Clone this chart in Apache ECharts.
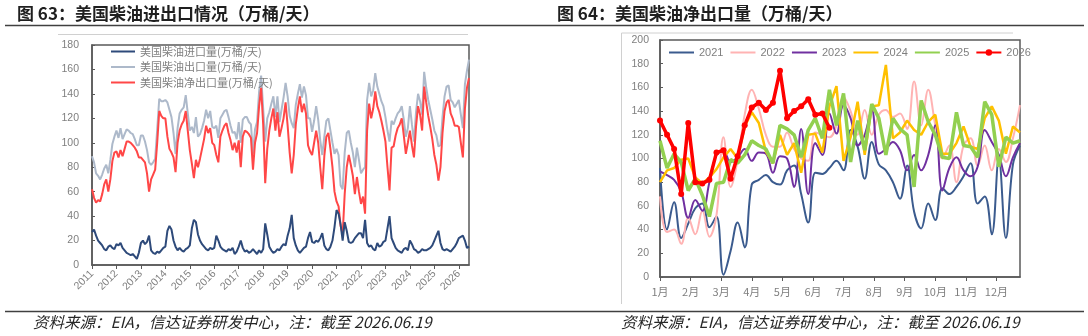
<!DOCTYPE html>
<html>
<head>
  <meta charset="UTF-8">
  <title>美国柴油进出口</title>
  <script src="https://cdn.jsdelivr.net/npm/echarts@6/dist/echarts.min.js"></script>
  <style>
    html, body { margin: 0; padding: 0; background: #fff; }
    #main { width: 1088px; height: 336px; }
  </style>
</head>
<body>
  <div id="main"></div>
  <script>
    // 图63 monthly, 2011-01 .. 2026-06 (万桶/天)
    var imports = [
      27, 29, 24, 20, 18, 16, 13, 12, 15, 16, 14, 13,
      17, 16, 18, 14, 12, 10, 9, 8, 9, 7, 5, 10,
      18, 20, 17, 19, 24, 12, 10, 9, 11, 10, 12, 14,
      15, 28, 32, 29, 20, 15, 12, 14, 12, 11, 13, 14,
      16, 30, 37, 35, 25, 20, 17, 15, 13, 12, 14, 13,
      14, 24, 20, 15, 13, 12, 11, 13, 12, 14, 9, 11,
      15, 20, 14, 11, 12, 10, 11, 13, 11, 9, 12, 10,
      13, 34, 25, 15, 12, 10, 11, 13, 12, 15, 17, 16,
      24, 30, 41, 22, 16, 12, 10, 12, 14, 15, 22, 27,
      19, 18, 20, 19, 22, 26, 16, 13, 12, 15, 20, 31,
      45, 42, 33, 20, 35, 28, 19, 18, 19, 22, 24, 26,
      26, 22, 37, 18, 15, 16, 13, 12, 18, 15, 16, 19,
      20, 30, 40, 22, 18, 14, 12, 11, 10, 13, 14, 12,
      20, 17, 13, 12, 10, 11, 13, 12, 12, 13, 14, 16,
      20, 24, 28, 18, 13, 12, 13, 12, 11, 13, 15, 18,
      22, 23, 24, 20, 14, 15
    ];
    var dieselExports = [
      89, 84, 75, 73, 70, 74, 79, 82, 75, 86, 99, 105,
      110, 104, 112, 103, 107, 111, 110, 108, 107, 103, 98, 98,
      106, 106, 101, 94, 84, 82, 84, 87, 111, 136, 134, 134,
      135, 133, 127, 121, 108, 91, 112, 124, 127, 129, 139, 124,
      110, 113, 108, 121, 105, 107, 112, 118, 127, 120, 126, 113,
      112, 114, 104, 120, 123, 126, 127, 121, 114, 108, 109, 103,
      117, 100, 119, 121, 121, 117, 115, 91, 111, 117, 142, 155,
      128, 101, 120, 125, 132, 138, 121, 138, 117, 127, 137, 149,
      138, 122, 116, 112, 131, 140, 148, 137, 146, 139, 120, 120,
      109, 118, 130, 119, 102, 90, 105, 118, 120, 110, 100, 91,
      95, 90, 65, 62, 92, 108, 110, 100, 92, 80, 96, 86,
      75, 78, 80, 135, 149, 138, 143, 157, 146, 140, 134, 130,
      121, 110, 101, 118, 115, 120, 124, 126, 130, 119, 105, 112,
      130, 115, 101, 125, 140, 134, 123, 158, 145, 135, 127, 119,
      110, 106, 97, 98, 121, 138, 146, 147, 135, 133, 129, 132,
      135, 123, 112, 148, 159, 168
    ];
    var netExports = [
      62, 55, 51, 53, 52, 58, 66, 70, 60, 70, 85, 92,
      93, 88, 94, 89, 95, 101, 101, 100, 98, 96, 93, 88,
      88, 86, 84, 75, 60, 70, 74, 78, 100, 126, 122, 120,
      120, 105, 95, 92, 88, 76, 100, 110, 115, 118, 126, 110,
      94, 83, 71, 86, 80, 87, 95, 103, 114, 108, 112, 100,
      98, 90, 84, 105, 110, 114, 116, 108, 102, 94, 100, 92,
      102, 80, 105, 110, 109, 107, 104, 78, 100, 108, 130, 145,
      115, 67, 95, 110, 120, 128, 110, 125, 105, 112, 120, 133,
      114, 92, 75, 90, 115, 128, 138, 125, 132, 124, 98, 93,
      90, 100, 110, 100, 80, 62, 89, 105, 108, 95, 80, 60,
      52, 48, 32, 25, 58, 80, 90, 82, 73, 58, 72, 60,
      50, 56, 42, 110, 132, 120, 128, 142, 130, 125, 118, 110,
      101, 80, 61, 96, 97, 106, 112, 115, 120, 106, 91, 100,
      110, 98, 88, 113, 130, 123, 110, 146, 133, 122, 113, 103,
      90, 82, 69, 80, 108, 126, 133, 135, 124, 120, 114, 114,
      113, 100, 88, 128, 145, 153
    ];

    // 图64 weekly net exports, week 1..52 of each year
    var net2021 = [92, 40, 63, 33, 45, 58, 62, 42, 51, 2, 22, 46, 25, 78, 82, 86, 80, 78, 90, 94,
      70, 46, 88, 87, 92, 98, 90, 124, 110, 83, 114, 95, 90, 80, 66, 94, 55, 41, 62, 48,
      75, 70, 76, 85, 96, 62, 68, 36, 100, 33, 95, 111];
    var net2022 = [68, 38, 40, 28, 50, 36, 56, 34, 52, 118, 76, 99, 137, 158, 142, 120, 110, 110, 122, 108,
      100, 98, 122, 120, 118, 128, 152, 140, 120, 141, 120, 137, 141, 135, 138, 125, 165, 128, 158, 128,
      100, 111, 80, 111, 117, 94, 111, 90, 108, 97, 117, 145];
    var net2023 = [89, 86, 82, 72, 50, 65, 56, 80, 103, 106, 97, 101, 108, 98, 105, 104, 88, 102, 100, 76,
      125, 70, 113, 103, 138, 121, 145, 134, 111, 120, 141, 104, 108, 114, 107, 90, 103, 90, 103, 128,
      73, 92, 101, 90, 85, 93, 124, 114, 103, 85, 101, 113];
    var net2024 = [80, 90, 92, 99, 100, 84, 79, 84, 91, 101, 108, 100, 127, 139, 130, 106, 96, 120, 103, 113,
      88, 120, 121, 105, 144, 161, 98, 118, 148, 103, 144, 145, 179, 117, 122, 132, 124, 120, 131, 137,
      104, 104, 113, 127, 110, 108, 134, 144, 132, 104, 127, 122];
    var net2025 = [115, 92, 104, 97, 73, 83, 69, 51, 79, 80, 99, 96, 103, 115, 111, 108, 96, 128, 125, 120,
      101, 124, 134, 117, 158, 128, 155, 97, 132, 107, 146, 134, 103, 134, 125, 120, 76, 149, 131, 120,
      101, 100, 139, 111, 110, 101, 148, 137, 93, 118, 113, 115];
    var net2026 = [132, 120, 108, 70, 130, 80, 79, 82, 105, 107, 83, 102, 128, 143, 147, 141, 147, 174, 134, 140,
      144, 150, 137, 138, 126];

    var monthNames = ['1月', '2月', '3月', '4月', '5月', '6月', '7月', '8月', '9月', '10月', '11月', '12月'];

    var months = [];
    for (var y = 2011; y <= 2026; y++) {
      for (var m = 1; m <= 12; m++) {
        if (y === 2026 && m > 6) break;
        months.push(y + '-' + (m < 10 ? '0' + m : m));
      }
    }
    var weeksPerMonth = 52 / 12;
    var monthPos = monthNames.map(function (n, i) { return i * weeksPerMonth; });
    function weekly(arr) { return arr.map(function (v, i) { return [i, v]; }); }
    function isJan(idx, val) { return val.slice(5) === '01'; }

    var frame = '#595959';
    var gray = '#7f7f7f';
    var numFont = "'Liberation Sans', 'Noto Sans CJK SC', sans-serif";
    var cjkFont = "'Noto Sans CJK SC', sans-serif";
    // legend marker hidden for plain lines, only the line sample is shown
    var noMarker = {color: 'rgba(0,0,0,0)', borderWidth: 0, opacity: 0};

    var chart = echarts.init(document.getElementById('main'), null, {renderer: 'canvas'});

    var yAxisBase = {
      type: 'value', min: 0, interval: 20,
      axisLine: {show: true, lineStyle: {color: frame, width: 1.5}},
      axisTick: {show: true, inside: true, length: 3, lineStyle: {color: frame}},
      axisLabel: {color: gray, fontSize: 10.5, fontFamily: numFont},
      splitLine: {show: false}
    };

    var option = {
      animation: false,
      backgroundColor: '#fff',
      grid: [
        {left: 92, top: 45, width: 377, height: 220, show: true, borderColor: frame, borderWidth: 1.5},
        {left: 660, top: 40, width: 360, height: 237, show: true, borderColor: frame, borderWidth: 1.5}
      ],
      legend: [
        {
          data: [
            {name: '美国柴油进口量(万桶/天)', itemStyle: noMarker},
            {name: '美国柴油出口量(万桶/天)', itemStyle: noMarker},
            {name: '美国柴油净出口量(万桶/天)', itemStyle: noMarker}
          ],
          orient: 'vertical', left: 105, top: 41, itemWidth: 24, itemHeight: 12, itemGap: 4.5,
          textStyle: {fontSize: 11, color: gray, fontFamily: cjkFont}
        },
        {
          data: [
            {name: '2021', itemStyle: noMarker},
            {name: '2022', itemStyle: noMarker},
            {name: '2023', itemStyle: noMarker},
            {name: '2024', itemStyle: noMarker},
            {name: '2025', itemStyle: noMarker},
            {name: '2026'}
          ],
          left: 663, top: 42, itemWidth: 25, itemHeight: 8, itemGap: 6,
          textStyle: {fontSize: 11, color: gray, fontFamily: numFont}
        }
      ],
      xAxis: [
        {
          type: 'category', gridIndex: 0, data: months, boundaryGap: false,
          axisLine: {lineStyle: {color: frame, width: 1.5}},
          axisTick: {interval: isJan, length: 4, lineStyle: {color: frame}},
          axisLabel: {
            interval: isJan, rotate: 45, margin: 7, color: gray, fontSize: 10.5, fontFamily: numFont,
            formatter: function (v) { return v.slice(0, 4); }
          },
          splitLine: {show: false}
        },
        {
          type: 'value', gridIndex: 1, min: 0, max: 51,
          axisLine: {lineStyle: {color: frame, width: 1.5}},
          axisTick: {customValues: monthPos, length: 4, lineStyle: {color: frame}},
          axisLabel: {
            customValues: monthPos, margin: 9, color: gray, fontSize: 11, fontFamily: cjkFont,
            formatter: function (v) { return monthNames[Math.round(v / weeksPerMonth)]; }
          },
          splitLine: {show: false}
        }
      ],
      yAxis: [
        Object.assign({}, yAxisBase, {gridIndex: 0, max: 180, axisLabel: Object.assign({}, yAxisBase.axisLabel, {margin: 13})}),
        Object.assign({}, yAxisBase, {gridIndex: 1, max: 200, axisLabel: Object.assign({}, yAxisBase.axisLabel, {margin: 11})})
      ],
      series: [
        {name: '美国柴油出口量(万桶/天)', type: 'line', data: dieselExports, symbol: 'none',
          lineStyle: {color: '#adb9ca', width: 2}, itemStyle: {color: '#adb9ca'}},
        {name: '美国柴油净出口量(万桶/天)', type: 'line', data: netExports, symbol: 'none',
          lineStyle: {color: '#ff4747', width: 2}, itemStyle: {color: '#ff4747'}},
        {name: '美国柴油进口量(万桶/天)', type: 'line', data: imports, symbol: 'none',
          lineStyle: {color: '#2e4a7a', width: 2}, itemStyle: {color: '#2e4a7a'}},

        {name: '2021', type: 'line', xAxisIndex: 1, yAxisIndex: 1, data: weekly(net2021), symbol: 'none', smooth: 0.4,
          lineStyle: {color: '#3b5b8e', width: 2}, itemStyle: {color: '#3b5b8e'}},
        {name: '2022', type: 'line', xAxisIndex: 1, yAxisIndex: 1, data: weekly(net2022), symbol: 'none', smooth: 0.4,
          lineStyle: {color: '#ffb3b3', width: 2}, itemStyle: {color: '#ffb3b3'}},
        {name: '2023', type: 'line', xAxisIndex: 1, yAxisIndex: 1, data: weekly(net2023), symbol: 'none', smooth: 0.4,
          lineStyle: {color: '#7030a0', width: 2}, itemStyle: {color: '#7030a0'}},
        {name: '2024', type: 'line', xAxisIndex: 1, yAxisIndex: 1, data: weekly(net2024), symbol: 'none',
          lineStyle: {color: '#ffc000', width: 2.5}, itemStyle: {color: '#ffc000'}},
        {name: '2025', type: 'line', xAxisIndex: 1, yAxisIndex: 1, data: weekly(net2025), symbol: 'none',
          lineStyle: {color: '#92d050', width: 3.5}, itemStyle: {color: '#92d050'}},
        {name: '2026', type: 'line', xAxisIndex: 1, yAxisIndex: 1, data: weekly(net2026),
          symbol: 'circle', symbolSize: 6, showSymbol: true,
          lineStyle: {color: '#ff0000', width: 3.5}, itemStyle: {color: '#ff0000'}}
      ],
      graphic: [
        {type: 'text', left: 17, top: 5, style: {text: '图 63：美国柴油进出口情况（万桶/天）', fill: '#1f1f1f',
          font: 'bold 17px ' + cjkFont}},
        {type: 'text', left: 557, top: 5, style: {text: '图 64：美国柴油净出口量（万桶/天）', fill: '#1f1f1f',
          font: 'bold 17px ' + cjkFont}},
        {type: 'line', shape: {x1: 5, y1: 25.5, x2: 1084, y2: 25.5}, style: {stroke: '#404040', lineWidth: 1.5}},
        {type: 'line', shape: {x1: 58, y1: 34.5, x2: 468, y2: 34.5}, style: {stroke: '#d0d0d0', lineWidth: 1}},
        {type: 'line', shape: {x1: 621.5, y1: 33, x2: 1013, y2: 33}, style: {stroke: '#d0d0d0', lineWidth: 1}},
        {type: 'line', shape: {x1: 621.5, y1: 33, x2: 621.5, y2: 304}, style: {stroke: '#d0d0d0', lineWidth: 1}},
        {type: 'line', shape: {x1: 5, y1: 311.5, x2: 1084, y2: 311.5}, style: {stroke: '#404040', lineWidth: 1.5}},
        {type: 'text', left: 33, top: 314, style: {text: '资料来源：EIA，信达证券研发中心，注：截至 2026.06.19', fill: '#262626',
          font: 'italic 15.5px ' + cjkFont}},
        {type: 'text', left: 621, top: 314, style: {text: '资料来源：EIA，信达证券研发中心，注：截至 2026.06.19', fill: '#262626',
          font: 'italic 15.5px ' + cjkFont}}
      ]
    };
    chart.setOption(option);
  </script>
</body>
</html>
